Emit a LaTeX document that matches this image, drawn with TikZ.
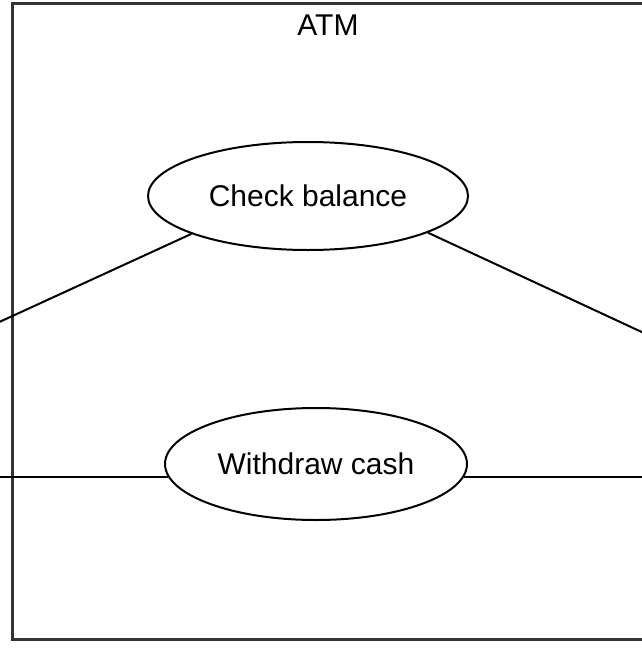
\documentclass[tikz,border=0pt]{standalone}
\usepackage{fontspec}
\setmainfont{Liberation Sans}
\usetikzlibrary{shapes.geometric}
\begin{document}
\begin{tikzpicture}[x=1pt,y=1pt,
  usecase/.style={ellipse,draw=black,line width=2pt,inner sep=0pt,font=\fontsize{30}{36}\selectfont},
  assoc/.style={draw=black,line width=2pt},
  sysbox/.style={draw=black!80,line width=2.6pt}]
\useasboundingbox (0,0) rectangle (641,-651);
\fill[white] (0,0) rectangle (641,-651);
\node[sysbox,minimum width=640pt,minimum height=636pt,inner sep=0pt,anchor=north west] (sys) at (11,-2) {};
\node[anchor=base,font=\fontsize{30}{36}\selectfont] (atm) at (328,-35) {ATM};
\node[usecase,minimum width=320pt,minimum height=108pt] (cb) at (308,-196) {Check balance};
\node[usecase,minimum width=302pt,minimum height=112pt] (wc) at (316,-464) {Withdraw cash};
\coordinate (a1) at (-5,-324);
\coordinate (a2) at (646,-334);
\coordinate (xl) at (-5,0);
\coordinate (xr) at (646,0);
\draw[assoc] (a1) -- (cb.198);
\draw[assoc] (a2) -- (cb.343);
\draw[assoc] (wc.185) -- (wc.185 -| xl);
\draw[assoc] (wc.355) -- (wc.355 -| xr);
\end{tikzpicture}
\end{document}
